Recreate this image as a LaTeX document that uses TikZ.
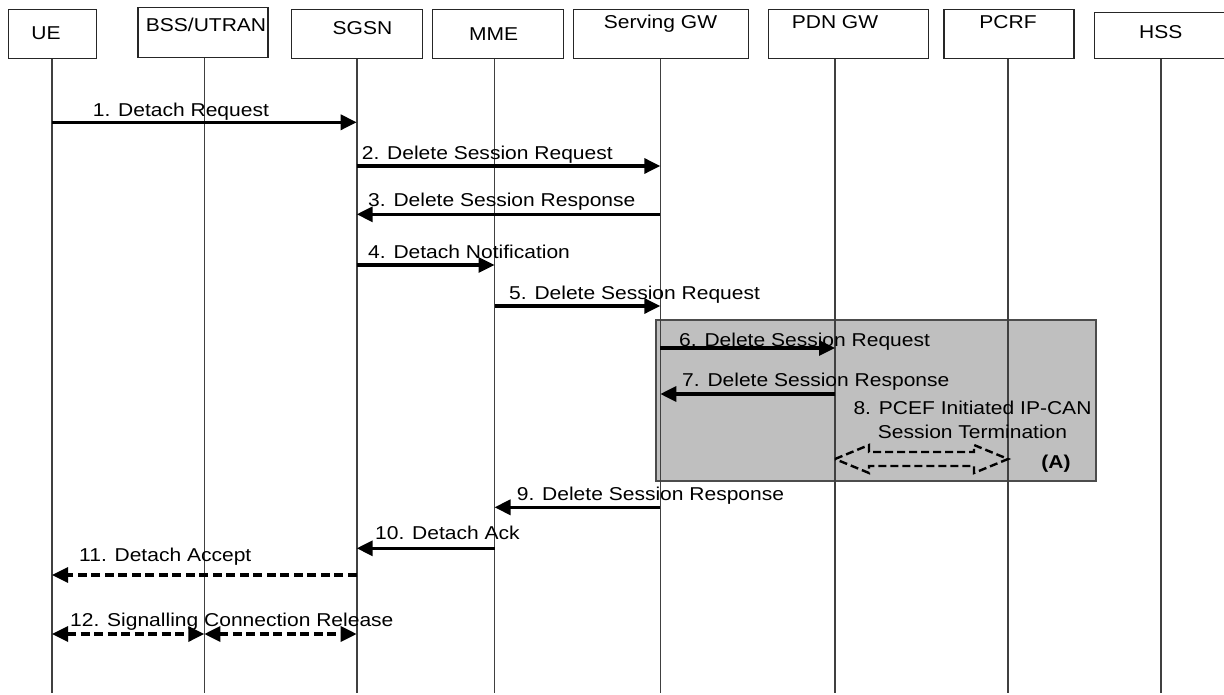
\documentclass[tikz,border=0pt]{standalone}
\usepackage{fontspec}
\setmainfont{Liberation Sans}[FakeStretch=1.13]
\usetikzlibrary{arrows.meta}
\usetikzlibrary{calc}

\begin{document}
\begin{tikzpicture}[
    x=1pt, y=-1pt,
    font=\fontsize{18.6}{24}\selectfont,
    >={Triangle[length=16pt,width=15pt]},
    entity/.style={rectangle,draw=black!85,line width=1.3pt,inner sep=0pt},
    ename/.style={anchor=base,inner sep=0pt},
    life/.style={draw=black!75,line width=1.6pt},
    msg/.style={->,line width=3.3pt},
    dmsg/.style={line width=3.3pt,dash pattern=on 9pt off 4.5pt},
    lbl/.style={anchor=base west,inner sep=0pt},
    block/.style={draw,line width=2.4pt,dash pattern=on 8pt off 4pt},
    area/.style={draw=black!70,fill=black!25,line width=1.2pt}
]
\useasboundingbox (0,0) rectangle (1224,695);
\clip (0,0) rectangle (1224,695);

\draw[area] (656,320) rectangle (1096,481);

\node[entity,minimum width=88pt,minimum height=49pt] (ue) at (52.5,33.8) {};
\node[entity,minimum width=130pt,minimum height=50pt] (bss) at (203,32.3) {};
\node[entity,minimum width=131pt,minimum height=49pt] (sgsn) at (357.2,33.8) {};
\node[entity,minimum width=131pt,minimum height=49pt] (mme) at (497.8,33.8) {};
\node[entity,minimum width=175pt,minimum height=49pt] (sgw) at (660.8,33.8) {};
\node[entity,minimum width=160pt,minimum height=49pt] (pgw) at (848.2,33.8) {};
\node[entity,minimum width=130pt,minimum height=49pt] (pcrf) at (1009,33.8) {};
\node[entity,minimum width=135pt,minimum height=45.6pt] (hss) at (1162,35.5) {};

\node[ename] (ue-t) at (46,40) {UE};
\node[ename] (bss-t) at (206,31.6) {BSS/UTRAN};
\node[ename] (sgsn-t) at (362.5,34.4) {SGSN};
\node[ename] (mme-t) at (493.7,40.8) {MME};
\node[ename] (sgw-t) at (660.5,28.3) {Serving GW};
\node[ename] (pgw-t) at (835,28.3) {PDN GW};
\node[ename] (pcrf-t) at (1008,28.3) {PCRF};
\node[ename] (hss-t) at (1160.8,38.3) {HSS};

\coordinate (ue-end) at (52,693);
\coordinate (bss-end) at (204.3,693);
\coordinate (sgsn-end) at (356.7,693);
\coordinate (mme-end) at (494.5,693);
\coordinate (sgw-end) at (660.3,693);
\coordinate (pgw-end) at (835,693);
\coordinate (pcrf-end) at (1008,693);
\coordinate (hss-end) at (1160.7,693);

\draw[life] (ue-end |- ue.south) -- (ue-end);
\draw[life] (bss-end |- bss.south) -- (bss-end);
\draw[life] (sgsn-end |- sgsn.south) -- (sgsn-end);
\draw[life] (mme-end |- mme.south) -- (mme-end);
\draw[life] (sgw-end |- sgw.south) -- (sgw-end);
\draw[life] (pgw-end |- pgw.south) -- (pgw-end);
\draw[life] (pcrf-end |- pcrf.south) -- (pcrf-end);
\draw[life] (hss-end |- hss.south) -- (hss-end);

\coordinate (r1) at (0,122.3);
\coordinate (r2) at (0,166);
\coordinate (r3) at (0,214.3);
\coordinate (r4) at (0,265);
\coordinate (r5) at (0,306);
\coordinate (r6) at (0,348);
\coordinate (r7) at (0,394);
\coordinate (r8) at (0,459);
\coordinate (r9) at (0,507.3);
\coordinate (r10) at (0,548.3);
\coordinate (r11) at (0,575);
\coordinate (r12) at (0,634);

\draw[msg] (ue-end |- r1) -- (sgsn-end |- r1);
\draw[msg] (sgsn-end |- r2) -- (sgw-end |- r2);
\draw[msg] (sgw-end |- r3) -- (sgsn-end |- r3);
\draw[msg] (sgsn-end |- r4) -- (mme-end |- r4);
\draw[msg] (mme-end |- r5) -- (sgw-end |- r5);
\draw[msg] (sgw-end |- r6) -- (pgw-end |- r6);
\draw[msg] (pgw-end |- r7) -- (sgw-end |- r7);
\draw[msg] (sgw-end |- r9) -- (mme-end |- r9);
\draw[msg] (mme-end |- r10) -- (sgsn-end |- r10);
\draw[dmsg,->] (sgsn-end |- r11) -- (ue-end |- r11);
\draw[dmsg,<->] (ue-end |- r12) -- (bss-end |- r12);
\draw[dmsg,<->] (bss-end |- r12) -- (sgsn-end |- r12);

\coordinate (l8) at (pgw-end |- r8);
\coordinate (p8) at (pcrf-end |- r8);
\draw[block] (l8) -- ++(34,-14) -- ++(0,7) -- ($(p8)+(-34,-7)$) -- ++(0,-7) -- (p8)
    -- ++(-34,14) -- ++(0,-7) -- ($(l8)+(34,7)$) -- ++(0,7) -- cycle;

\node[lbl] (m1) at (92.7,116.6) {1. Detach Request};
\node[lbl] (m2) at (361.7,159.3) {2. Delete Session Request};
\node[lbl] (m3) at (368,206.6) {3. Delete Session Response};
\node[lbl] (m4) at (368,258.3) {4. Detach Notification};
\node[lbl] (m5) at (509,299.6) {5. Delete Session Request};
\node[lbl] (m6) at (679,346.6) {6. Delete Session Request};
\node[lbl] (m7) at (682,386.6) {7. Delete Session Response};
\node[anchor=north,align=center,inner sep=0pt] (m8) at (972.5,401) {8. PCEF Initiated IP-CAN\\Session Termination};
\node[ename,font=\fontsize{18.6}{24}\selectfont\bfseries] (a8) at (1056,468.6) {(A)};
\node[lbl] (m9) at (516.7,500.6) {9. Delete Session Response};
\node[lbl] (m10) at (375,539.6) {10. Detach Ack};
\node[lbl] (m11) at (79,561.6) {11. Detach Accept};
\node[lbl] (m12) at (70,626.6) {12. Signalling Connection Release};
\end{tikzpicture}
\end{document}
